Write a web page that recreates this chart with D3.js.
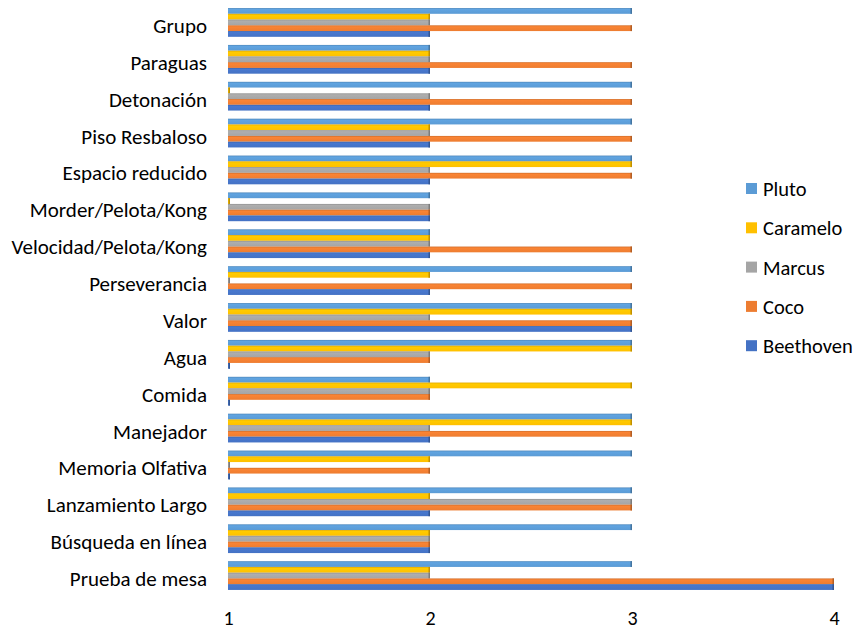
<!DOCTYPE html>
<html>
<head>
<meta charset="utf-8">
<script src="https://cdn.jsdelivr.net/npm/d3@7"></script>
<style>
  html, body { margin: 0; padding: 0; background: #fff; }
  svg { display: block; }
  text { font-family: Carlito, Calibri, Lato, sans-serif; fill: #000; }
</style>
</head>
<body>
<svg id="chart" width="859" height="631"></svg>
<script>
// Categories, top to bottom
const categories = ["Grupo", "Paraguas", "Detonación", "Piso Resbaloso", "Espacio reducido",
  "Morder/Pelota/Kong", "Velocidad/Pelota/Kong", "Perseverancia", "Valor", "Agua", "Comida",
  "Manejador", "Memoria Olfativa", "Lanzamiento Largo", "Búsqueda en línea", "Prueba de mesa"];

// Series (order top to bottom within each group)
const seriesNames = ["Pluto", "Caramelo", "Marcus", "Coco", "Beethoven"];
const pluto     = [3, 2, 3, 3, 3, 2, 2, 3, 3, 3, 2, 3, 3, 3, 3, 3];
const caramelo  = [2, 2, 1, 2, 3, 1, 2, 2, 3, 3, 3, 3, 2, 2, 2, 2];
const marcus    = [2, 2, 2, 2, 2, 2, 2, 1, 2, 2, 2, 2, 1, 3, 2, 2];
const coco      = [3, 3, 3, 3, 3, 2, 3, 3, 3, 2, 2, 3, 2, 3, 2, 4];
const beethoven = [2, 2, 2, 2, 2, 2, 2, 2, 3, 1, 1, 2, 1, 2, 2, 4];
const xTicks = [1, 2, 3, 4];

const seriesValues = [pluto, caramelo, marcus, coco, beethoven];
const colors = ["#5B9BD5", "#FFC000", "#A5A5A5", "#ED7D31", "#4472C4"];

const svg = d3.select("#chart");

const x = d3.scaleLinear().domain([1, 4]).range([228, 834]);
const y = d3.scaleBand().domain(categories).range([4, 594]).paddingInner(0.22).paddingOuter(0.11);
const yi = d3.scaleBand().domain(seriesNames).range([0, y.bandwidth()]);

// gradients
const defs = svg.append("defs");
seriesNames.forEach((s, i) => {
  const c = d3.color(colors[i]);
  const g = defs.append("linearGradient").attr("id", "g" + i)
    .attr("x1", 0).attr("y1", 0).attr("x2", 0).attr("y2", 1);
  g.append("stop").attr("offset", "0%").attr("stop-color", c.darker(0.35));
  g.append("stop").attr("offset", "25%").attr("stop-color", c.brighter(0.15));
  g.append("stop").attr("offset", "100%").attr("stop-color", c);
});

const groups = svg.append("g").selectAll("g")
  .data(categories).join("g")
  .attr("transform", d => `translate(0,${y(d)})`);

groups.each(function(cat, ci) {
  const g = d3.select(this);
  seriesNames.forEach((s, si) => {
    const v = seriesValues[si][ci];
    const w = Math.max(x(v) - x(1), 2);
    g.append("rect")
      .attr("x", x(1))
      .attr("y", yi(s))
      .attr("width", w)
      .attr("height", yi.bandwidth())
      .attr("fill", `url(#g${si})`);
    // darker end cap (3D look)
    g.append("rect")
      .attr("x", x(1) + w - 1.5)
      .attr("y", yi(s))
      .attr("width", 1.5)
      .attr("height", yi.bandwidth())
      .attr("fill", d3.color(colors[si]).darker(0.8));
  });
});

// Category axis (no line)
const yAxis = svg.append("g").attr("transform", `translate(${x(1)},0)`)
  .call(d3.axisLeft(y).tickSize(0).tickPadding(21));
yAxis.select(".domain").remove();
yAxis.selectAll("text").style("font-size", "21px").attr("fill", "#000").attr("dy", "0.5em");

// Value axis (no line)
const xAxis = svg.append("g").attr("transform", `translate(0,${607})`)
  .call(d3.axisBottom(x).tickValues(xTicks).tickFormat(d3.format("d")).tickSize(0).tickPadding(4));
xAxis.select(".domain").remove();
xAxis.selectAll("text").style("font-size", "20px").attr("fill", "#000");

// Legend
const legend = svg.append("g").selectAll("g")
  .data(seriesNames).join("g")
  .attr("transform", (d, i) => `translate(746,${189 + i * 39.3})`);
legend.append("rect").attr("x", 0).attr("y", -6).attr("width", 11).attr("height", 11)
  .attr("fill", (d, i) => colors[i]);
legend.append("text").attr("x", 17).attr("y", 0).attr("dy", "0.35em")
  .style("font-size", "20.5px").text(d => d);
</script>
</body>
</html>
